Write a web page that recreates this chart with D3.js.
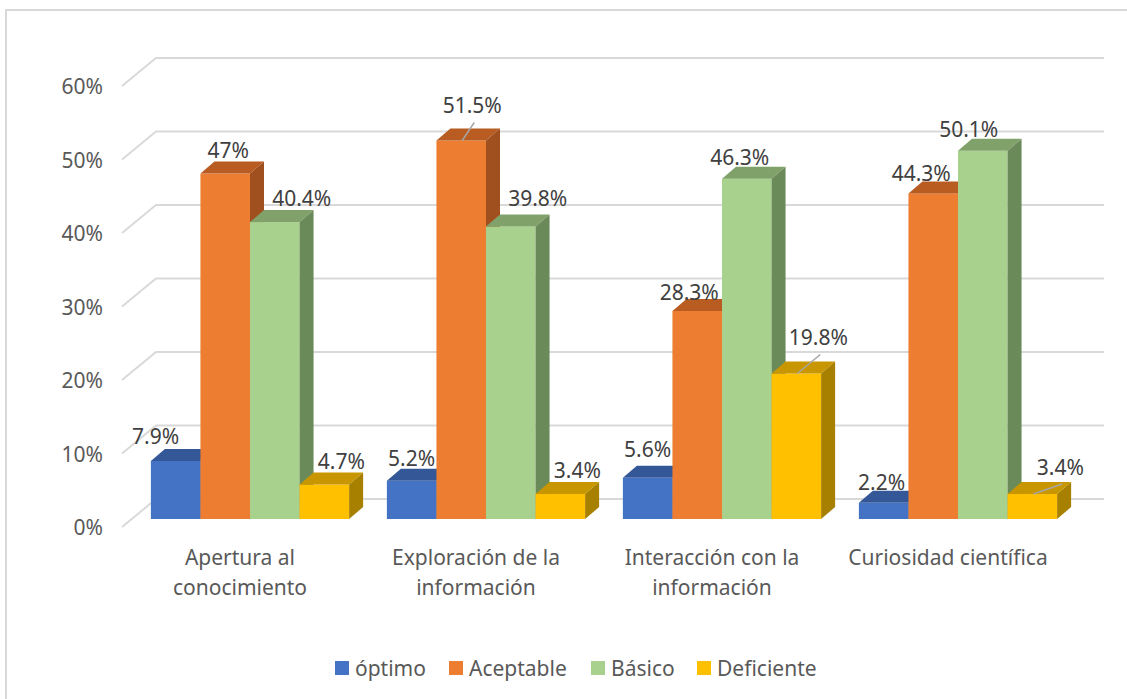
<!DOCTYPE html>
<html>
<head>
<meta charset="utf-8">
<script src="https://cdn.jsdelivr.net/npm/d3@7"></script>
<style>
  body { margin: 0; background: #fff; }
  text { font-family: "Noto Sans", "Open Sans", sans-serif; }
</style>
</head>
<body>
<div id="chart"></div>
<script>
// data
var categories = [["Apertura al", "conocimiento"], ["Exploración de la", "información"],
                  ["Interacción con la", "información"], ["Curiosidad científica"]];
var seriesNames = ["óptimo", "Aceptable", "Básico", "Deficiente"];
var optimo     = [7.9, 5.2, 5.6, 2.2];
var aceptable  = [47, 51.5, 28.3, 44.3];
var basico     = [40.4, 39.8, 46.3, 50.1];
var deficiente = [4.7, 3.4, 19.8, 3.4];
var yTicks = [0, 10, 20, 30, 40, 50, 60];

// label nudges (series x category), like the hand-moved labels in the original
var labelNudge = [
  [[-20, -1], [0, 1], [0, -5], [-2, 3]],
  [[3, 0], [11, -11], [-8, 5], [-12, 4]],
  [[27, 0], [27, -4], [-7, 2], [-14, 2]],
  [[17, 1], [17, 0], [22, -12], [28, -3]]
];
var leaders = [[1, 1], [3, 2], [3, 3]];

var series = [optimo, aceptable, basico, deficiente];
var colors = [
  {front: "#4472C4", top: "#335797", side: "#2C4C86"},
  {front: "#ED7D31", top: "#B85C22", side: "#A0501E"},
  {front: "#A9D18E", top: "#80A26A", side: "#6B8A5A"},
  {front: "#FFC000", top: "#C89600", side: "#A88000"}
];

var W = 1127, H = 699;
var depthX = 34, depthY = 28;   // full floor depth
var frontX = 10, frontY = 8;    // bars sit a bit behind the front edge
var barDX = 14, barDY = 12;     // bar depth
var fontSize = "21px";

var svg = d3.select("#chart").append("svg")
  .attr("width", W).attr("height", H);

// outer border
svg.append("rect")
  .attr("x", 6).attr("y", 10).attr("width", 1130).attr("height", 700)
  .attr("fill", "none").attr("stroke", "#d9d9d9").attr("stroke-width", 2);

var x0 = d3.scaleBand()
  .domain(d3.range(categories.length))
  .range([132, 1076])
  .paddingInner(0.16)
  .paddingOuter(0.08);

var x1 = d3.scaleBand()
  .domain(d3.range(series.length))
  .range([0, x0.bandwidth()]);

var y = d3.scaleLinear().domain([0, 60]).range([519, 78]);

// gridlines (floor diagonal + back wall)
var grid = svg.append("g");
yTicks.forEach(function(t) {
  var yy = y(t);
  grid.append("path")
    .attr("d", "M" + (132 - frontX) + "," + (yy + frontY) +
               "L" + (132 - frontX + depthX) + "," + (yy + frontY - depthY) +
               "L1104," + (yy + frontY - depthY))
    .attr("fill", "none")
    .attr("stroke", "#d9d9d9")
    .attr("stroke-width", 2);
  grid.append("text")
    .attr("x", 103).attr("y", yy + frontY)
    .attr("text-anchor", "end")
    .attr("dominant-baseline", "central")
    .attr("font-size", fontSize)
    .attr("fill", "#595959")
    .text(t + "%");
});

// bars, painted left to right
var bars = svg.append("g");
categories.forEach(function(c, ci) {
  series.forEach(function(s, si) {
    var v = s[ci];
    var bx = x0(ci) + x1(si), bw = x1.bandwidth();
    var yt = y(v), yb = y(0);
    var col = colors[si];
    bars.append("rect")
      .attr("x", bx).attr("y", yt).attr("width", bw).attr("height", yb - yt)
      .attr("fill", col.front);
    bars.append("path")
      .attr("d", "M" + bx + "," + yt + "L" + (bx + barDX) + "," + (yt - barDY) +
                 "L" + (bx + bw + barDX) + "," + (yt - barDY) + "L" + (bx + bw) + "," + yt + "Z")
      .attr("fill", col.top);
    bars.append("path")
      .attr("d", "M" + (bx + bw) + "," + yt + "L" + (bx + bw + barDX) + "," + (yt - barDY) +
                 "L" + (bx + bw + barDX) + "," + (yb - barDY) + "L" + (bx + bw) + "," + yb + "Z")
      .attr("fill", col.side);
  });
});

// data labels
var labels = svg.append("g");
categories.forEach(function(c, ci) {
  series.forEach(function(s, si) {
    var v = s[ci];
    var cx = x0(ci) + x1(si) + x1.bandwidth() / 2;
    var yt = y(v);
    var n = labelNudge[si][ci];
    var lx = cx + n[0], ly = yt - 24 + n[1];
    var isLeader = leaders.some(function(l) { return l[0] === si && l[1] === ci; });
    if (isLeader) {
      labels.append("line")
        .attr("x1", lx + 2).attr("y1", ly + 17)
        .attr("x2", cx + 1).attr("y2", yt)
        .attr("stroke", "#a6a6a6").attr("stroke-width", 1.5);
    }
    labels.append("text")
      .attr("x", lx).attr("y", ly)
      .attr("text-anchor", "middle")
      .attr("dominant-baseline", "central")
      .attr("font-size", fontSize)
      .attr("fill", "#404040")
      .text(v + "%");
  });
});

// category labels
var cats = svg.append("g");
categories.forEach(function(c, ci) {
  var t = cats.append("text")
    .attr("x", x0(ci) + x0.bandwidth() / 2 - frontX)
    .attr("y", 557)
    .attr("text-anchor", "middle")
    .attr("dominant-baseline", "central")
    .attr("font-size", fontSize)
    .attr("fill", "#595959");
  c.forEach(function(line, li) {
    t.append("tspan")
      .attr("x", x0(ci) + x0.bandwidth() / 2 - frontX)
      .attr("dy", li === 0 ? 0 : 30)
      .text(line);
  });
});

// legend
var legendX = [335, 449, 591, 697];
var legend = svg.append("g");
seriesNames.forEach(function(name, i) {
  legend.append("rect")
    .attr("x", legendX[i]).attr("y", 661).attr("width", 14).attr("height", 14)
    .attr("fill", colors[i].front);
  legend.append("text")
    .attr("x", legendX[i] + 20).attr("y", 668)
    .attr("dominant-baseline", "central")
    .attr("font-size", fontSize)
    .attr("fill", "#595959")
    .text(name);
});
</script>
</body>
</html>
